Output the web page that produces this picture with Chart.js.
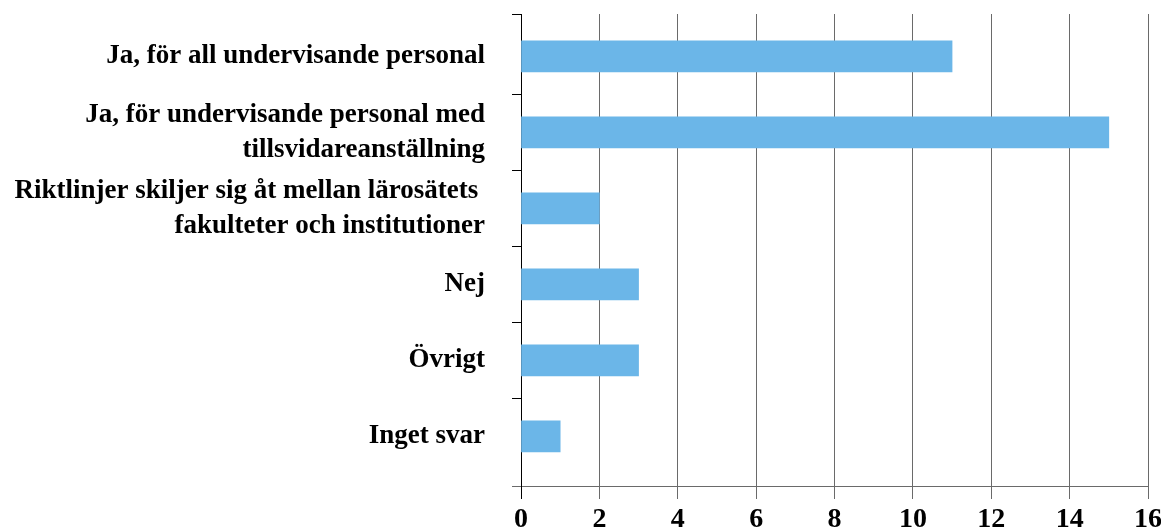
<!DOCTYPE html>
<html>
<head>
<meta charset="utf-8">
<script src="https://cdn.jsdelivr.net/npm/chart.js@4/dist/chart.umd.min.js"></script>
<style>
html,body{margin:0;padding:0;background:#fff;}
#wrap{width:1161px;height:529px;position:relative;}
</style>
</head>
<body>
<div id="wrap"><canvas id="c"></canvas></div>
<script>
const categories = [
  'Ja, för all undervisande personal',
  ['Ja, för undervisande personal med', 'tillsvidareanställning'],
  ['Riktlinjer skiljer sig åt mellan lärosätets ', 'fakulteter och institutioner'],
  'Nej',
  'Övrigt',
  'Inget svar'
];
const values = [11, 15, 2, 3, 3, 1];
const xTickValues = [0, 2, 4, 6, 8, 10, 12, 14, 16];

const FONT = "'Liberation Serif', 'Times New Roman', serif";
const yMin = -0.5566, yMax = 5.654;

const points = values.map((v, i) => ({ x: v, y: i }));

new Chart(document.getElementById('c'), {
  type: 'bar',
  data: {
    datasets: [{
      data: points,
      backgroundColor: '#6BB6E8',
      borderWidth: 0,
      barThickness: 31
    }]
  },
  options: {
    indexAxis: 'y',
    responsive: true,
    maintainAspectRatio: false,
    animation: false,
    layout: { padding: { top: 14, left: 0, right: 13, bottom: 0 } },
    plugins: { legend: { display: false }, tooltip: { enabled: false } },
    scales: {
      x: {
        type: 'linear',
        min: 0, max: 16,
        offset: false,
        afterBuildTicks: (s) => { s.ticks = xTickValues.map(v => ({ value: v })); },
        afterFit: (s) => { s.height = 43; s.paddingLeft = 0; s.paddingRight = 0; },
        grid: {
          offset: false,
          color: (c) => c.tick && c.tick.value === 0 ? '#000' : '#6a6a6a',
          tickColor: (c) => c.tick && c.tick.value === 0 ? '#000' : '#6a6a6a',
          tickLength: 13,
          lineWidth: 1
        },
        border: { display: true, color: '#6a6a6a' },
        ticks: {
          padding: 7,
          color: '#000',
          autoSkip: false,
          maxRotation: 0,
          font: { family: FONT, size: 28, weight: 'bold', lineHeight: 1 }
        }
      },
      y: {
        type: 'linear',
        reverse: true,
        offset: false,
        min: yMin, max: yMax,
        afterBuildTicks: (s) => {
          const t = [yMin];
          for (let i = 0; i < categories.length; i++) {
            t.push(i);
            if (i < categories.length - 1) t.push(i + 0.5);
          }
          t.push(yMax);
          s.ticks = t.map(v => ({ value: v }));
        },
        afterFit: (s) => { s.width = 521; s.paddingTop = 0; s.paddingBottom = 0; },
        grid: {
          offset: false,
          drawOnChartArea: false,
          drawTicks: true,
          tickLength: 9,
          tickColor: (c) => (c.tick && Number.isInteger(c.tick.value)) ? 'rgba(0,0,0,0)' : (c.tick && c.tick.value === yMax ? '#6a6a6a' : '#000')
        },
        border: { display: true, color: '#000', width: 1 },
        ticks: {
          padding: 27,
          color: '#000',
          autoSkip: false,
          callback: (v) => Number.isInteger(v) ? categories[v] : '',
          font: { family: FONT, size: 27, weight: 'bold', lineHeight: 1.3 }
        }
      }
    }
  }
});
</script>
</body>
</html>
